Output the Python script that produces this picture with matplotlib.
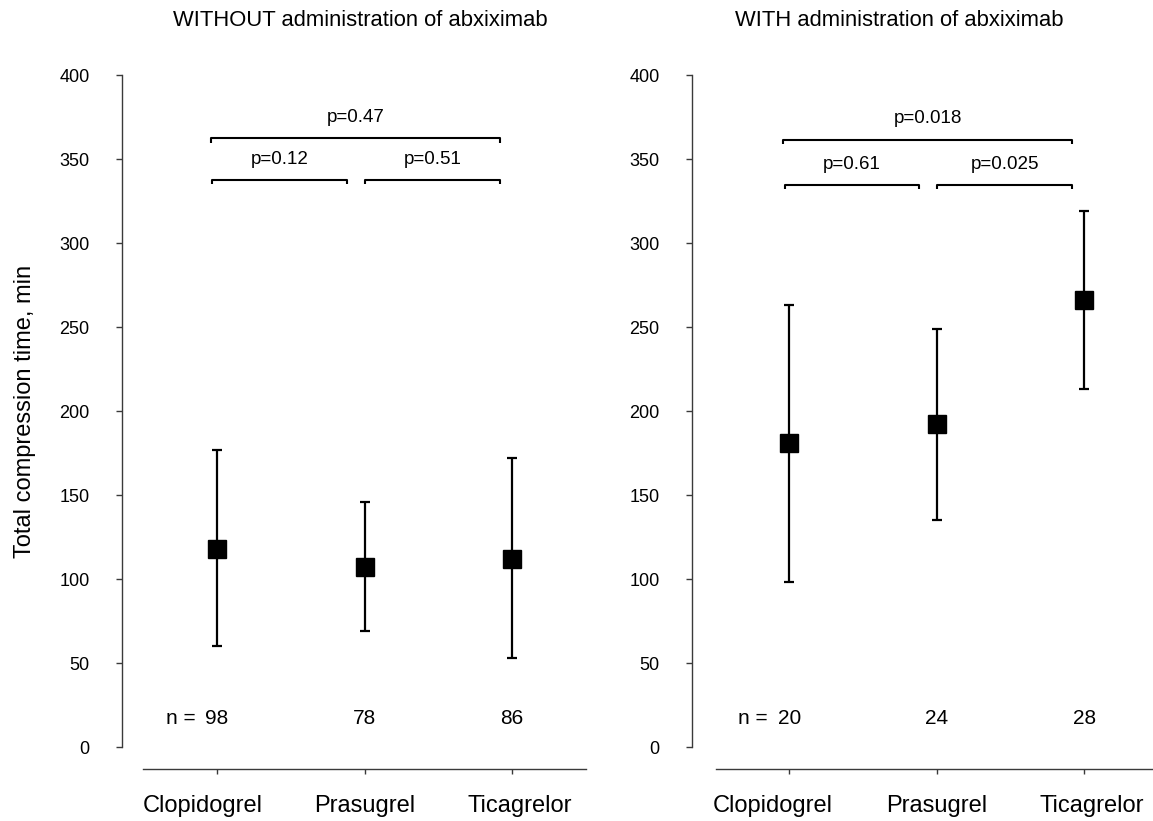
import matplotlib
matplotlib.use("Agg")
import matplotlib.pyplot as plt

plt.rcParams['font.family'] = ['Liberation Sans', 'DejaVu Sans']

# ---- data ----
drugs = ["Clopidogrel", "Prasugrel", "Ticagrelor"]

without_mid = [118, 107, 112]
without_low = [60, 69, 53]
without_high = [177, 146, 172]
without_n = ["98", "78", "86"]
without_p = ["p=0.47", "p=0.12", "p=0.51"]

with_mid = [181, 192, 266]
with_low = [98, 135, 213]
with_high = [263, 249, 319]
with_n = ["20", "24", "28"]
with_p = ["p=0.018", "p=0.61", "p=0.025"]

titles = ["WITHOUT administration of abxiximab", "WITH administration of abxiximab"]
ylabel = "Total compression time, min"
yticks = [0, 50, 100, 150, 200, 250, 300, 350, 400]

W, H = 1153, 821
PT = 72 / 100  # points per pixel
fig = plt.figure(figsize=(W / 100, H / 100), dpi=100)

ax_bottom = 1 - 747 / H
ax_height = (747 - 75) / H
ax1 = fig.add_axes([143 / W, ax_bottom, 443 / W, ax_height])
ax2 = fig.add_axes([715.5 / W, ax_bottom, 442.5 / W, ax_height])

spine_col = '#3a3a3a'


def draw(ax, mid, low, high, nlab, plabs, spine_off, bracket_y, text_dy, lab_offs):
    x = list(range(len(mid)))
    yerr = [[m - l for m, l in zip(mid, low)], [h - m for m, h in zip(mid, high)]]
    ax.errorbar(x, mid, yerr=yerr, fmt='s', color='black', ms=13,
                elinewidth=1.6, capsize=3.6, capthick=1.6, mec='black', mfc='black',
                zorder=3)
    ax.set_xlim(-0.5, 2.5)
    ax.set_ylim(0, 400)
    ax.set_yticks(yticks)
    ax.set_xticks(x)
    ax.set_xticklabels([])
    ax.tick_params(axis='y', labelsize=13, length=4.3, width=1, pad=19,
                   color=spine_col, direction='out')
    ax.tick_params(axis='x', length=3.5, width=1, color=spine_col, direction='out')
    for s in ['top', 'right']:
        ax.spines[s].set_visible(False)
    ax.spines['left'].set_position(('outward', spine_off))
    ax.spines['bottom'].set_position(('outward', 15.8))
    for s in ['left', 'bottom']:
        ax.spines[s].set_color(spine_col)
        ax.spines[s].set_linewidth(1.0)

    # category labels under the axis
    for xi, name, o in zip(x, drugs, lab_offs):
        ax.annotate(name, xy=(xi, 0), xycoords=('data', 'axes fraction'),
                    xytext=(o * PT, -48 * PT), textcoords='offset points',
                    ha='center', va='top', fontsize=17, annotation_clip=False)

    # n labels
    for xi, n in zip(x, nlab):
        ax.text(xi, 16.7, n, ha='center', va='center', fontsize=15)
    ax.annotate("n =", xy=(0, 16.7), xytext=(-15.5, 0), textcoords='offset points',
                ha='right', va='center', fontsize=15)

    # significance brackets: (start, end, level)
    brackets = [(-0.04, 1.92, bracket_y[0]), (-0.03, 0.88, bracket_y[1]), (1.0, 1.92, bracket_y[1])]
    tick = 2.6
    for (xs, xe, yb), pl in zip(brackets, plabs):
        ax.plot([xs, xs, xe, xe], [yb - tick, yb, yb, yb - tick], color='black',
                lw=1.5, solid_capstyle='butt', clip_on=False)
        ax.text((xs + xe) / 2, yb + text_dy, pl, ha='center', va='center', fontsize=13.5)


draw(ax1, without_mid, without_low, without_high, without_n, without_p, 15.1,
     (362.3, 337.5), 12.2, (-14, 0, 8))
draw(ax2, with_mid, with_low, with_high, with_n, with_p, 16.9,
     (361.5, 334.5), 12.5, (-16, 0, 8))

fig.text(173 / W, 1 - 20 / H, titles[0], ha='left', va='center', fontsize=15.8)
fig.text(735 / W, 1 - 20 / H, titles[1], ha='left', va='center', fontsize=15.8)
fig.text(25 / W, 1 - 411 / H, ylabel, rotation=90, ha='center', va='center', fontsize=17)

fig.savefig("out.png", dpi=100)
